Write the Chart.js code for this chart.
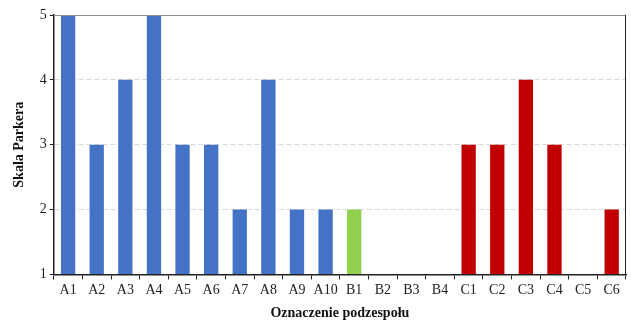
<!DOCTYPE html>
<html>
<head>
<meta charset="utf-8">
<script src="https://cdn.jsdelivr.net/npm/chart.js@4/dist/chart.umd.min.js"></script>
<style>
  html, body { margin: 0; padding: 0; background: #fff; }
  #wrap { width: 631px; height: 322px; }
</style>
</head>
<body>
<div id="wrap"><canvas id="chartCanvas"></canvas></div>
<script>
// dane
const labels = ['A1','A2','A3','A4','A5','A6','A7','A8','A9','A10','B1','B2','B3','B4','C1','C2','C3','C4','C5','C6'];
const values = [5, 3, 4, 5, 3, 3, 2, 4, 2, 2, 2, 1, 1, 1, 3, 3, 4, 3, 1, 2];
const groups = ['A','A','A','A','A','A','A','A','A','A','B','B','B','B','C','C','C','C','C','C'];
const groupColors = { A: '#4472C4', B: '#92D050', C: '#C00000' };
const yTicks = [1, 2, 3, 4, 5];

const font = { family: "'Liberation Serif', 'Times New Roman', serif", size: 14 };

// ramka obszaru wykresu (góra szara, prawa ciemna)
const frame = {
    id: 'frame',
    afterDraw(chart) {
        const { ctx, chartArea: a } = chart;
        ctx.save();
        ctx.lineWidth = 1;
        ctx.strokeStyle = '#8c8c8c';
        ctx.beginPath();
        ctx.moveTo(a.left, a.top + 0.5);
        ctx.lineTo(a.right, a.top + 0.5);
        ctx.stroke();
        ctx.strokeStyle = '#222';
        ctx.beginPath();
        ctx.moveTo(a.right - 0.5, a.top);
        ctx.lineTo(a.right - 0.5, a.bottom);
        ctx.stroke();
        ctx.restore();
    }
};

new Chart(document.getElementById('chartCanvas').getContext('2d'), {
    type: 'bar',
    data: {
        labels: labels,
        datasets: [{
            data: values,
            base: 1,
            backgroundColor: groups.map(g => groupColors[g]),
            borderWidth: 0,
            barPercentage: 0.5,
            categoryPercentage: 1
        }]
    },
    options: {
        responsive: true,
        maintainAspectRatio: false,
        animation: false,
        layout: { padding: { top: 15, right: 5, left: 11, bottom: 0 } },
        plugins: {
            legend: { display: false },
            tooltip: { enabled: false }
        },
        scales: {
            x: {
                offset: true,
                grid: {
                    offset: true,
                    drawOnChartArea: false,
                    drawTicks: true,
                    tickLength: 5,
                    color: '#222'
                },
                border: { color: '#222', width: 1.5 },
                ticks: { color: '#222', font: font, padding: 3, maxRotation: 0 },
                title: {
                    display: true,
                    text: 'Oznaczenie podzespołu',
                    color: '#111',
                    font: { family: font.family, size: 14, weight: 'bold' },
                    padding: { top: 3, bottom: 0 }
                }
            },
            y: {
                min: 1,
                max: 5,
                afterBuildTicks: axis => { axis.ticks = yTicks.map(v => ({ value: v })); },
                grid: {
                    color: ctx => (ctx.tick && ctx.tick.value > 1 && ctx.tick.value < 5) ? '#d9d9d9' : 'rgba(0,0,0,0)',
                    tickColor: '#222',
                    tickLength: 4,
                    lineWidth: 1
                },
                border: { color: '#222', width: 1.5, dash: [5, 3] },
                ticks: { color: '#222', font: font, padding: 3 },
                title: {
                    display: true,
                    text: 'Skala Parkera',
                    color: '#111',
                    font: { family: font.family, size: 14, weight: 'bold' },
                    padding: { top: 0, bottom: 9 }
                }
            }
        }
    },
    plugins: [frame]
});
</script>
</body>
</html>
